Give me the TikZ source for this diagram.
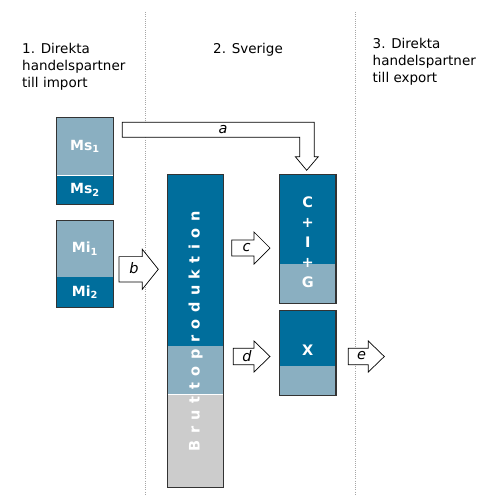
\documentclass[tikz,border=0pt]{standalone}
\usepackage{fontspec}
\setmainfont{DejaVu Sans}
\usetikzlibrary{positioning,calc}

\definecolor{flowdark}{HTML}{006E9C}
\definecolor{flowlight}{HTML}{8AAFC1}
\definecolor{flowgrey}{HTML}{CCCCCC}
\definecolor{framegrey}{HTML}{333333}

\tikzset{
  part/.style={minimum width=56pt, inner sep=0pt, text=white, font=\fontsize{14}{16}\selectfont\bfseries},
  boxtext/.style={inner sep=0pt, text=white, font=\fontsize{14.5}{20}\selectfont\bfseries},
  frame/.style={draw=framegrey, line width=1.2pt},
  divider/.style={draw=gray!70, line width=0.9pt, dash pattern=on 0.9pt off 1.3pt},
  heading/.style={inner sep=0pt, align=left, font=\fontsize{13.5}{17}\selectfont},
  arrowshape/.style={draw=black, fill=white, line width=0.7pt},
  arrowlabel/.style={inner sep=0pt, font=\fontsize{14.5}{16}\selectfont\itshape}
}

% #1 tail point, #2 shaft length, #3 half shaft, #4 half head, #5 head length
\newcommand\blockarrow[5]{%
  \draw[arrowshape] (#1) ++(0,-#3) -- ++(#2,0) -- ++(0,#3-#4) -- ++(#5,#4)
    -- ++(-#5,#4) -- ++(0,#3-#4) -- ++(-#2,0) -- cycle;}

\begin{document}
\begin{tikzpicture}[x=1pt,y=-1pt]
\useasboundingbox (0,0) rectangle (493,495);

% column dividers
\draw[divider] (145,12) -- (145,495);
\draw[divider] (355,12) -- (355,495);

% column headings
\node[heading, anchor=north west] (head1) at (22,43) {1. Direkta\\handelspartner\\till import};
\node[heading, anchor=base west] (head2) at (213,53.3) {2. Sverige};
\node[heading, anchor=north west] (head3) at (372.5,38) {3. Direkta\\handelspartner\\till export};

% imports
\node[part, fill=flowlight, minimum height=58pt] (ms1) at (85,146.3) {Ms\textsubscript{1}};
\node[part, fill=flowdark, minimum height=28.4pt, below=0pt of ms1] (ms2) {Ms\textsubscript{2}};
\draw[frame] (ms1.north west) rectangle (ms2.south east);

\node[part, fill=flowlight, minimum height=56pt] (mi1) at (85,248.7) {Mi\textsubscript{1}};
\node[part, fill=flowdark, minimum height=30pt, below=0pt of mi1] (mi2) {Mi\textsubscript{2}};
\draw[frame] (mi1.north west) rectangle (mi2.south east);

% production
\node[part, fill=flowdark, minimum height=170.7pt] (bp1) at (195.5,260.35) {};
\node[part, fill=flowlight, minimum height=48pt, below=0pt of bp1] (bp2) {};
\node[part, fill=flowgrey, minimum height=93pt, below=0pt of bp2] (bp3) {};
\draw[frame] (bp1.north west) rectangle (bp3.south east);
\node[boxtext, rotate=90] (brutto) at ($(bp1.north)!0.5!(bp3.south)$)
  {\foreach \ch in {B,r,u,t,t,o,p,r,o,d,u,k,t,i,o}{\ch\kern6.5pt}n};

% use
\node[part, fill=flowdark, minimum height=89pt] (cig1) at (307.7,219.5) {};
\node[part, fill=flowlight, minimum height=38.7pt, below=0pt of cig1] (cig2) {};
\draw[frame] (cig1.north west) rectangle (cig2.south east);
\node[boxtext, align=center] (cig) at ($(cig1.north)!0.5!(cig2.south)+(0,3)$) {C\\+\\I\\+\\G};

\node[part, fill=flowdark, minimum height=54.7pt] (x1) at (307.7,338.35) {};
\node[part, fill=flowlight, minimum height=29.3pt, below=0pt of x1] (x2) {};
\draw[frame] (x1.north west) rectangle (x2.south east);
\node[boxtext] (x) at ($(x1.north)!0.5!(x2.south)+(0,-3)$) {X};

% flows
\draw[arrowshape] (122.3,122.3) -- (314.3,122.3) -- (314.3,156.7) -- (318.3,156.7)
  -- (306.7,170.3) -- (295.3,156.7) -- (299.7,156.7) -- (299.7,137.3) -- (122.3,137.3) -- cycle;
\node[arrowlabel] (la) at (223,130) {a};

\coordinate (btail) at (119,269.3);
\blockarrow{btail}{23.3}{12.7}{20}{16}
\node[arrowlabel] (lb) at (134,268) {b};

\coordinate (ctail) at (231.7,248);
\blockarrow{ctail}{22.3}{8}{16}{16}
\node[arrowlabel] (lc) at (246.5,248) {c};

\coordinate (dtail) at (233.3,356.5);
\blockarrow{dtail}{20.7}{8.2}{15.5}{16}
\node[arrowlabel] (ld) at (247,356) {d};

\coordinate (etail) at (348.3,356.5);
\blockarrow{etail}{20}{8.2}{15.5}{16}
\node[arrowlabel] (le) at (361.5,356) {e};
\end{tikzpicture}
\end{document}
